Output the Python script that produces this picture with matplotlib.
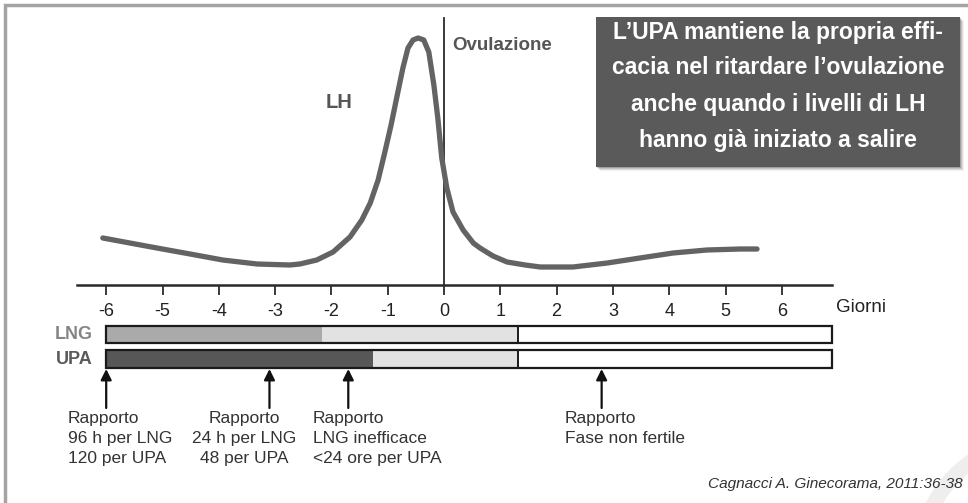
import numpy as np
import matplotlib.pyplot as plt
from matplotlib.patches import Rectangle, Arc

plt.rcParams['font.family'] = ['Liberation Sans', 'DejaVu Sans']

# LH curve (days from ovulation, level in arbitrary units)
lh_days = [-6.06, -5.58, -5.10, -4.51, -3.93, -3.32, -2.74, -2.56, -2.26, -1.97,
           -1.67, -1.46, -1.31, -1.17, -1.05, -0.94, -0.83, -0.73, -0.64, -0.55,
           -0.46, -0.36, -0.27, -0.18, -0.11, -0.04, 0.05, 0.16, 0.34, 0.52,
           0.64, 0.87, 1.12, 1.44, 1.71, 2.29, 2.90, 3.48, 4.07, 4.67, 5.26, 5.56]
lh_level = [47, 42, 37, 31, 25, 21, 20, 21, 25, 33,
            48, 65, 82, 105, 133, 160, 190, 217, 237, 245,
            247, 245, 233, 200, 167, 127, 97, 73, 55, 42,
            37, 29, 23, 20, 18, 18, 22, 27, 32, 35, 36, 36]

day_ticks = [-6, -5, -4, -3, -2, -1, 0, 1, 2, 3, 4, 5, 6]

# efficacy windows (days)
bar_names = ['LNG', 'UPA']
effective_end = [-2.17, -1.26]
fertile_end = [1.31, 1.31]
bar_start = -6
bar_end = 6.89

report_days = [-6, -3.1, -1.7, 2.8]
report_texts = ['Rapporto\n96 h per LNG\n120 per UPA',
                'Rapporto\n24 h per LNG\n48 per UPA',
                'Rapporto\nLNG inefficace\n<24 ore per UPA',
                'Rapporto\nFase non fertile']

box_lines = ['L\u2019UPA mantiene la propria effi-',
             'cacia nel ritardare l\u2019ovulazione',
             'anche quando i livelli di LH',
             'hanno gi\u00e0 iniziato a salire']

W, H = 968, 503
PX = 56.3  # pixels per day
X0 = 444   # pixel of day 0
Y0 = 285   # pixel of axis line

fig = plt.figure(figsize=(W / 100, H / 100), dpi=100)
ax = fig.add_axes([0, 0, 1, 1])
ax.set_xlim(-X0 / PX, (W - X0) / PX)
ax.set_ylim(Y0 - H, Y0)
ax.axis('off')


def fx(px):
    return px / W


def fy(py):
    return 1 - py / H


# outer frame
ax.add_patch(Rectangle((fx(5), fy(515)), fx(990), 510 / H, transform=ax.transAxes,
                       fill=False, ec='#a4a4a4', lw=2.5, zorder=1))
# faint watermark arc
ax.add_patch(Arc((fx(1040), fy(560)), 240 / W, 240 / H, theta1=60, theta2=180,
                 transform=ax.transAxes, color='#eeeeee', lw=11, zorder=0))

# LH curve and ovulation line
ax.plot(lh_days, lh_level, color='#636363', lw=3.8, solid_capstyle='round',
        solid_joinstyle='round', zorder=3)
ax.plot([0, 0], [0, Y0 - 18], color='#2a2a2a', lw=1.3, zorder=2)

ax.text((452 - X0) / PX, Y0 - 45, 'Ovulazione', fontsize=13.5, fontweight='bold',
        color='#555555', va='center', ha='left')
ax.text((326 - X0) / PX, Y0 - 102, 'LH', fontsize=14.5, fontweight='bold',
        color='#555555', va='center', ha='left')

# day axis
ax.plot([-6.52, bar_end], [0, 0], color='#2a2a2a', lw=1.8, zorder=2)
ax.vlines(day_ticks, -10, 0, color='#2a2a2a', lw=1.3)
for d in day_ticks:
    ax.text(d, -26, str(d), fontsize=13, ha='center', va='center', color='#222222')
ax.text((836 - X0) / PX, -23, 'Giorni', fontsize=13.5, ha='left', va='center',
        color='#222222')

# LNG / UPA bars
bar_rows = [(Y0 - 343, Y0 - 326), (Y0 - 368, Y0 - 350)]
dark_colors = ['#aaaaaa', '#575757']
label_colors = ['#858585', '#5a5a5a']
for name, eff, fer, (y_lo, y_hi), c, lc in zip(bar_names, effective_end, fertile_end,
                                                 bar_rows, dark_colors, label_colors):
    h = y_hi - y_lo
    ax.barh(y_lo, eff - bar_start, height=h, left=bar_start, align='edge',
            color=c, lw=0, zorder=2)
    ax.barh(y_lo, fer - eff, height=h, left=eff, align='edge',
            color='#e2e2e2', lw=0, zorder=2)
    ax.barh(y_lo, bar_end - fer, height=h, left=fer, align='edge',
            color='white', lw=0, zorder=2)
    ax.barh(y_lo, bar_end - bar_start, height=h, left=bar_start, align='edge',
            fill=False, ec='#1a1a1a', lw=1.6, zorder=3)
    ax.plot([fer, fer], [y_lo, y_hi], color='#1a1a1a', lw=1.4, zorder=3)
    ax.text((93 - X0) / PX, (y_lo + y_hi) / 2, name, fontsize=13, fontweight='bold',
            color=lc, ha='right', va='center')

# intercourse arrows and notes
text_x = [(68 - X0) / PX, (244 - X0) / PX, (313 - X0) / PX, (565 - X0) / PX]
text_ha = ['left', 'center', 'left', 'left']
for d, t, tx, ha in zip(report_days, report_texts, text_x, text_ha):
    ax.annotate('', xy=(d, Y0 - 369), xytext=(d, Y0 - 408),
                arrowprops=dict(arrowstyle='-|>', color='#111111', lw=1.6,
                                mutation_scale=16, shrinkA=0, shrinkB=0))
    ax.text(tx, Y0 - 411, t, fontsize=12.5, ha=ha, va='top', color='#333333',
            multialignment='center' if ha == 'center' else 'left', linespacing=1.42)

ax.text(fx(963), fy(484), 'Cagnacci A. Ginecorama, 2011:36-38', transform=ax.transAxes,
        fontsize=11.1, style='italic', color='#333333', ha='right', va='center')

# message box with shadow
for i, a in enumerate([0.06, 0.08, 0.12, 0.18]):
    off = 4 - i
    ax.add_patch(Rectangle((fx(596 + off), fy(167 + off)), fx(364), 150 / H,
                           transform=ax.transAxes, color='black', alpha=a, lw=0, zorder=4))
ax.add_patch(Rectangle((fx(596), fy(167)), fx(364), 150 / H, transform=ax.transAxes,
                       color='#5a5a5a', lw=0, zorder=5))
for i, line in enumerate(box_lines):
    ax.text(fx(778), fy(32 + 36 * i), line, transform=ax.transAxes, fontsize=16.5,
            fontweight='bold', color='white', ha='center', va='center', zorder=6)

fig.savefig('out.png', dpi=100)
